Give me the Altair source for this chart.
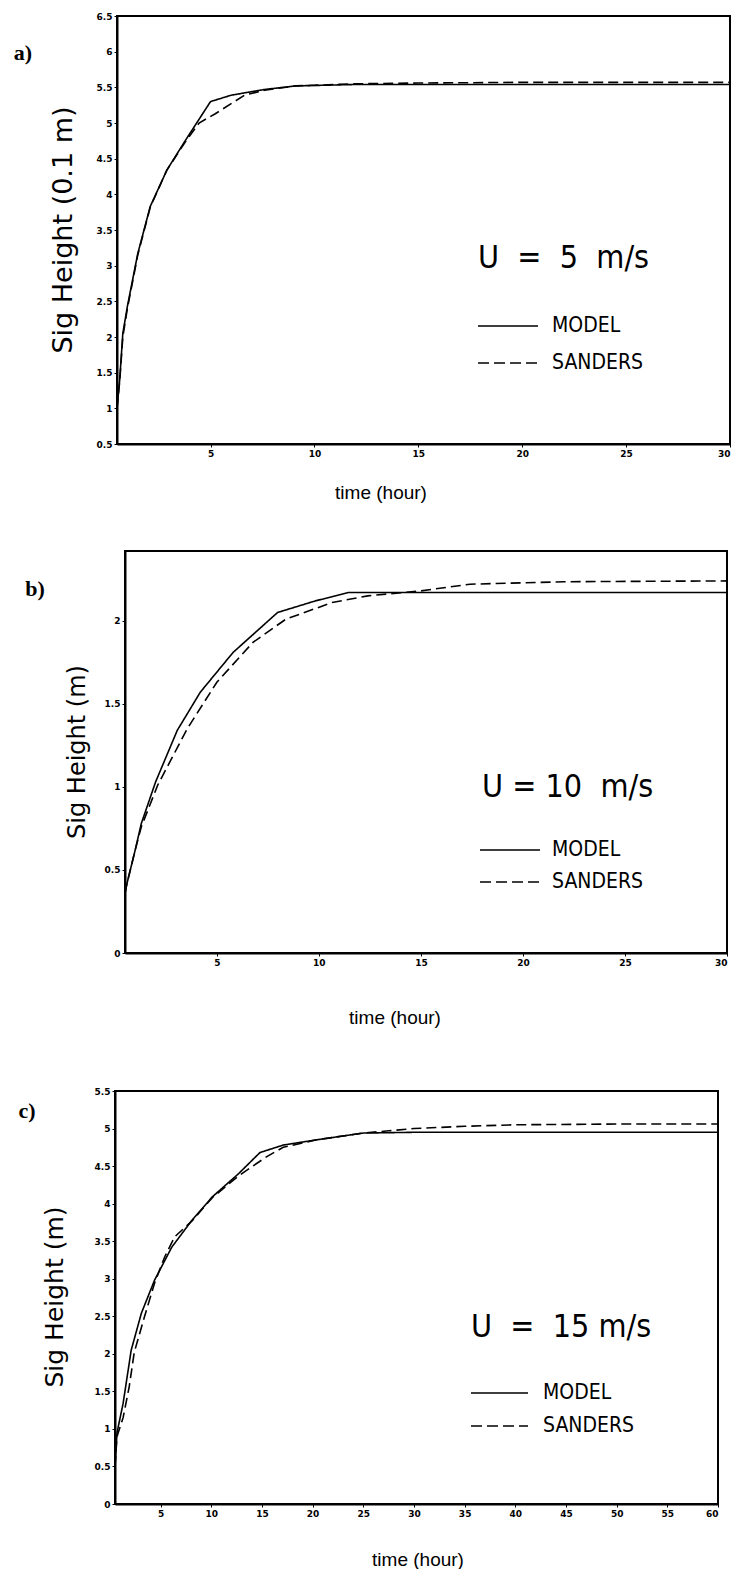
import altair as alt
import pandas as pd

# ---------------- data ----------------
# Panel a) U = 5 m/s, Sig Height in units of 0.1 m
a_model_hours = [0.5, 0.63, 0.78, 1.0, 1.5, 2.1, 2.9, 3.8, 5.0, 6.0, 7.6, 9.1, 12, 15, 20, 25, 30]
a_model = [1.0, 1.4, 2.05, 2.43, 3.17, 3.83, 4.34, 4.76, 5.30, 5.39, 5.47, 5.52, 5.54, 5.54, 5.54, 5.54, 5.54]
a_sanders_hours = [0.5, 0.63, 0.78, 1.0, 1.5, 2.1, 2.9, 3.8, 4.45, 5.23, 6.64, 7.6, 9.1, 12, 15, 20, 25, 30]
a_sanders = [1.0, 1.38, 2.0, 2.4, 3.15, 3.82, 4.34, 4.74, 5.0, 5.13, 5.39, 5.46, 5.52, 5.55, 5.56, 5.57, 5.57, 5.57]

# Panel b) U = 10 m/s, Sig Height in m
b_model_hours = [0.5, 0.6, 1.0, 1.3, 2.0, 3.06, 4.19, 5.8, 7.98, 9.84, 11.45, 15, 20, 25, 30]
b_model = [0.36, 0.42, 0.62, 0.78, 1.03, 1.34, 1.57, 1.81, 2.05, 2.12, 2.17, 2.17, 2.17, 2.17, 2.17]
b_sanders_hours = [0.5, 0.6, 1.0, 1.3, 2.1, 3.55, 5.0, 6.77, 8.39, 10.65, 12.4, 15, 17.4, 22, 30]
b_sanders = [0.36, 0.42, 0.62, 0.76, 1.01, 1.35, 1.63, 1.87, 2.01, 2.11, 2.15, 2.18, 2.22, 2.235, 2.24]

# Panel c) U = 15 m/s, Sig Height in m
c_model_hours = [0.5, 0.7, 1.3, 2.1, 3.1, 4.4, 6.1, 8.1, 10.1, 12.7, 14.8, 17.1, 20.4, 25, 30, 40, 50, 60]
c_model = [0.5, 0.95, 1.34, 2.05, 2.54, 2.98, 3.42, 3.78, 4.09, 4.40, 4.68, 4.78, 4.85, 4.94, 4.95, 4.95, 4.95, 4.95]
c_sanders_hours = [0.5, 0.7, 1.3, 1.9, 2.4, 3.4, 4.4, 5.4, 6.4, 8.1, 10.1, 12.7, 15.4, 17.1, 20.4, 25, 30, 35, 40, 50, 60]
c_sanders = [0.5, 0.9, 1.15, 1.56, 2.02, 2.49, 2.94, 3.29, 3.56, 3.77, 4.08, 4.37, 4.62, 4.75, 4.85, 4.94, 5.0, 5.03, 5.05, 5.06, 5.06]

series_names = ["MODEL", "SANDERS"]
x_ticks_30 = [5, 10, 15, 20, 25, 30]
x_ticks_60 = [5, 10, 15, 20, 25, 30, 35, 40, 45, 50, 55, 60]
a_y_ticks = [0.5, 1, 1.5, 2, 2.5, 3, 3.5, 4, 4.5, 5, 5.5, 6, 6.5]
b_y_ticks = [0, 0.5, 1, 1.5, 2]
c_y_ticks = [0, 0.5, 1, 1.5, 2, 2.5, 3, 3.5, 4, 4.5, 5, 5.5]

NB = "\u00a0"  # non-collapsing space for the wide-spaced wind-speed labels
u_labels = [
    "U" + NB + " = " + NB + "5" + NB + " m/s",
    "U = 10" + NB + " m/s",
    "U" + NB + " = " + NB + "15 m/s",
]

TICK_FONT = "DejaVu Sans"
TITLE_FONT = "DejaVu Sans"
NARROW_FONT = "DejaVu Sans Condensed, Liberation Sans Narrow, DejaVu Sans"
XTITLE_FONT = "Liberation Sans"
LETTER_FONT = "Liberation Serif"

# whole drawing area (page margin 8px)
TOTAL_W = 723
TOTAL_H = 1561

# panel boxes in drawing coordinates: (left, right, top, bottom)
BOX_A = (109, 722, 8, 436)
BOX_B = (117, 719, 543, 945)
BOX_C = (107, 710, 1083, 1496)


def txt(s, x, y, size, font, weight="normal", align="center", baseline="middle", angle=0):
    return alt.Chart(pd.DataFrame({"t": [s]})).mark_text(
        align=align, baseline=baseline, font=font, fontSize=size,
        fontWeight=weight, angle=angle, color="black",
    ).encode(x=alt.value(x), y=alt.value(y), text="t:N")


def legend_rule(x1, x2, y, dash):
    return alt.Chart(pd.DataFrame({"k": [0]})).mark_rule(
        color="black", strokeWidth=1.3, strokeDash=dash
    ).encode(x=alt.value(x1), x2=alt.value(x2), y=alt.value(y))


def panel(mh, mv, sh, sv, xdom, xticks, ydom, yticks, box):
    left, right, top, bottom = box
    df = pd.concat([
        pd.DataFrame({"hour": mh, "value": mv, "series": series_names[0]}),
        pd.DataFrame({"hour": sh, "value": sv, "series": series_names[1]}),
    ])
    xs = alt.Scale(domain=xdom, range=[left, right], nice=False, zero=False)
    ys = alt.Scale(domain=ydom, range=[bottom, top], nice=False, zero=False)
    lines = alt.Chart(df).mark_line(strokeWidth=1.6, color="black").encode(
        x=alt.X("hour:Q", scale=xs,
                axis=alt.Axis(values=xticks, format="d", title=None, orient="bottom",
                              offset=bottom - TOTAL_H)),
        y=alt.Y("value:Q", scale=ys,
                axis=alt.Axis(values=yticks, format="~g", title=None, orient="left",
                              offset=-left)),
        strokeDash=alt.StrokeDash("series:N",
                                  scale=alt.Scale(domain=series_names, range=[[1, 0], [10, 5]]),
                                  legend=None),
    )
    box_df = pd.DataFrame({"x0": [xdom[0]], "x1": [xdom[1]], "y0": [ydom[0]], "y1": [ydom[1]]})
    frame = alt.Chart(box_df).mark_rect(filled=False, stroke="black", strokeWidth=2).encode(
        x=alt.X("x0:Q"), x2="x1:Q", y=alt.Y("y0:Q"), y2="y1:Q"
    )
    return alt.layer(lines, frame)


def annotations(letter, letter_xy, ytitle, ytitle_xy, ytitle_size, xtitle_xy, utext, u_xy, leg):
    lx1, lx2, ly_m, ly_s, ltx = leg
    return [
        txt(letter, letter_xy[0], letter_xy[1], 22, LETTER_FONT, weight="bold"),
        txt(ytitle, ytitle_xy[0], ytitle_xy[1], ytitle_size, TITLE_FONT,
            baseline="alphabetic", angle=270),
        txt("time (hour)", xtitle_xy[0], xtitle_xy[1], 19, XTITLE_FONT),
        txt(utext, u_xy[0], u_xy[1], 32, NARROW_FONT, align="left"),
        legend_rule(lx1, lx2, ly_m, [1, 0]),
        legend_rule(lx1, lx2, ly_s, [11, 5]),
        txt("MODEL", ltx, ly_m, 21, NARROW_FONT, align="left"),
        txt("SANDERS", ltx, ly_s, 21, NARROW_FONT, align="left"),
    ]


pa = panel(a_model_hours, a_model, a_sanders_hours, a_sanders,
           [0.5, 30], x_ticks_30, [0.5, 6.5], a_y_ticks, BOX_A)
pb = panel(b_model_hours, b_model, b_sanders_hours, b_sanders,
           [0.5, 30], x_ticks_30, [0, 2.42], b_y_ticks, BOX_B)
pc = panel(c_model_hours, c_model, c_sanders_hours, c_sanders,
           [0.5, 60], x_ticks_60, [0, 5.5], c_y_ticks, BOX_C)

texts = (
    annotations("a)", (15, 45), "Sig Height (0.1 m)", (64, 222), 27, (373, 485),
                u_labels[0], (470, 250), (470, 530, 318, 355, 544))
    + annotations("b)", (27, 581), "Sig Height (m)", (77, 744), 24, (387, 1010),
                  u_labels[1], (474, 779), (472, 532, 842, 874, 544))
    + annotations("c)", (19, 1103), "Sig Height (m)", (55, 1289), 25, (410, 1552),
                  u_labels[2], (463, 1319), (463, 520, 1385, 1418, 535))
)

chart = alt.layer(pa, pb, pc, *texts).resolve_scale(
    x="independent", y="independent"
).properties(
    width=TOTAL_W, height=TOTAL_H, padding=0, background="white",
    autosize=alt.AutoSizeParams(type="none"),
).configure_view(
    stroke=None
).configure_axis(
    grid=False, domainColor="black", domainWidth=2, tickColor="black",
    tickSize=3, tickWidth=1, labelColor="black", labelFont=TICK_FONT,
    labelFontSize=9, labelFontWeight="bold", labelPadding=2,
)

chart.save("out.html", embed_options={"renderer": "svg", "actions": False})
